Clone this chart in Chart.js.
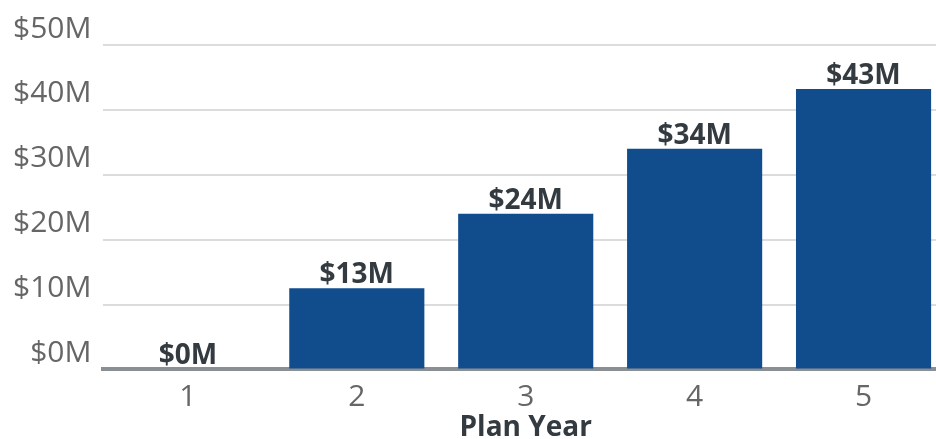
<!DOCTYPE html>
<html>
<head>
<meta charset="utf-8">
<script src="https://cdn.jsdelivr.net/npm/chart.js@4"></script>
<style>
  html, body { margin: 0; padding: 0; overflow: hidden; background: #fff; }
  #wrap { width: 950px; height: 439px; }
</style>
</head>
<body>
<div id="wrap"><canvas id="planChart"></canvas></div>
<script>
// Chart data
const planYears = ["1", "2", "3", "4", "5"];
const savings = [0, 12.5, 24, 34, 43.2];          // $ millions
const savingsLabels = ["$0M", "$13M", "$24M", "$34M", "$43M"];

const barColor = "#114d8d";
const labelFont = "'Open Sans', 'Noto Sans', sans-serif";

// Draws the value above each bar
const valueLabels = {
    id: "valueLabels",
    afterDatasetsDraw(chart) {
        const ctx = chart.ctx;
        const meta = chart.getDatasetMeta(0);
        ctx.save();
        ctx.font = "bold 28px " + labelFont;
        ctx.fillStyle = "#333a40";
        ctx.textAlign = "center";
        ctx.textBaseline = "alphabetic";
        meta.data.forEach((bar, i) => {
            ctx.fillText(savingsLabels[i], bar.x, bar.y - 5);
        });
        ctx.restore();
    }
};

document.addEventListener("DOMContentLoaded", () => {
    const ctx = document.getElementById("planChart").getContext("2d");
    new Chart(ctx, {
        type: "bar",
        data: {
            labels: planYears,
            datasets: [{
                data: savings,
                backgroundColor: barColor,
                categoryPercentage: 0.8,
                barPercentage: 1.0
            }]
        },
        options: {
            responsive: true,
            maintainAspectRatio: false,
            animation: false,
            layout: { padding: { top: 45, right: 2, left: 1, bottom: -6 } },
            plugins: {
                legend: { display: false },
                tooltip: { enabled: false }
            },
            scales: {
                x: {
                    grid: { display: false },
                    border: { display: true, color: "#8a8f93", width: 4 },
                    ticks: {
                        color: "#666",
                        font: { family: labelFont, size: 30 },
                        padding: 2
                    },
                    title: {
                        display: true,
                        text: "Plan Year",
                        color: "#333a40",
                        font: { family: labelFont, size: 28, weight: "bold" },
                        padding: { top: -6, bottom: 0 }
                    }
                },
                y: {
                    min: 0,
                    max: 50,
                    border: { display: false },
                    grid: {
                        color: (c) => c.tick && c.tick.value === 0 ? "rgba(0,0,0,0)" : "#dcdcdc",
                        lineWidth: 2,
                        drawTicks: false
                    },
                    ticks: {
                        stepSize: 10,
                        color: "#666",
                        font: { family: labelFont, size: 30 },
                        padding: 12,
                        labelOffset: -16,
                        callback: (v) => "$" + v + "M"
                    }
                }
            }
        },
        plugins: [valueLabels]
    });
});
</script>
</body>
</html>
